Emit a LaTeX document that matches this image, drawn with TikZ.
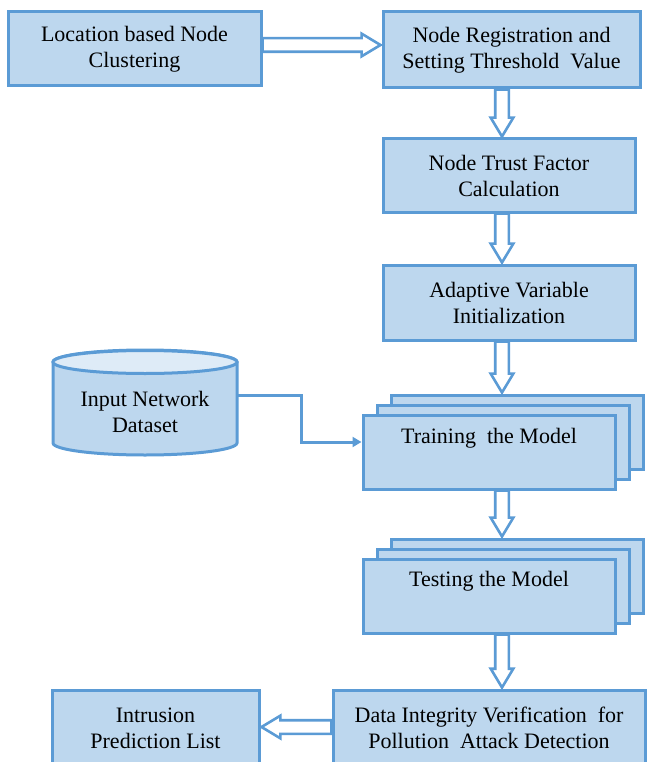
\documentclass[tikz,border=0pt]{standalone}
\usepackage{fontspec}
\setmainfont{Liberation Serif}
\newfontfamily\tnr{Liberation Serif}
\usetikzlibrary{shapes.arrows,calc,arrows.meta}
\definecolor{boxfill}{HTML}{BDD7EE}
\definecolor{boxline}{HTML}{5B9BD5}
\definecolor{endfill}{HTML}{DEEBF7}
\tikzset{
  box/.style={draw=boxline, fill=boxfill, line width=3pt, inner sep=0pt,
    align=center, font=\tnr\fontsize{22}{26}\selectfont},
  barrow/.style={single arrow, draw=boxline, fill=white, line width=2.6pt,
    inner xsep=0pt, inner ysep=5.5pt, minimum width=0pt, outer sep=0pt,
    single arrow head extend=4.5pt, single arrow tip angle=62,
    sloped, allow upside down},
  conn/.style={draw=boxline, line width=3pt, -{Triangle[length=9pt,width=10pt]}},
  lbl/.style={align=center, font=\tnr\fontsize{22}{26}\selectfont, inner sep=0pt}
}
\newcommand{\blockarrow}[2]{%
  \path let \p1=#1, \p2=#2, \n1={veclen(\x2-\x1,\y2-\y1)} in
    #1 -- #2 node[barrow, pos=0, anchor=tail, minimum height=\n1-1pt] {};}
\begin{document}
\begin{tikzpicture}[x=1pt,y=1pt]
\useasboundingbox (0,0) rectangle (651,-762);
\coordinate (ax) at (502,0);
% top boxes
\node[box, minimum width=253pt, minimum height=74pt] (b1) at (134.5,-49) {Location based Node\\Clustering};
\node[box, minimum width=257pt, minimum height=76pt] (b2) at (511.5,-50) {Node Registration and\\Setting Threshold\ \ Value};
\node[box, minimum width=252pt, minimum height=73pt] (b3) at (509,-175.5) {Node Trust Factor\\Calculation};
\node[box, minimum width=252pt, minimum height=75pt] (b4) at (509,-302.5) {Adaptive Variable\\Initialization};
% training stack
\node[box, minimum width=252pt, minimum height=74pt] (trc) at (517,-432) {};
\node[box, minimum width=252pt, minimum height=74pt] (trb) at (503,-442) {};
\node[box, minimum width=252pt, minimum height=74pt] (tr) at (489,-452) {};
\node[lbl] (trt) at (489,-438) {Training\ \ the Model};
% testing stack
\node[box, minimum width=252pt, minimum height=74pt] (tec) at (517,-576) {};
\node[box, minimum width=252pt, minimum height=74pt] (teb) at (503,-586) {};
\node[box, minimum width=252pt, minimum height=74pt] (te) at (489,-596) {};
\node[lbl] (tet) at (489,-581) {Testing the Model};
% bottom boxes
\node[box, minimum width=312pt, minimum height=76pt] (dv) at (489,-728) {Data Integrity Verification\ \ for\\Pollution\ \ Attack Detection};
\node[box, minimum width=207pt, minimum height=76pt] (ip) at (155.5,-728) {Intrusion\\Prediction List};
% cylinder
\filldraw[draw=boxline, fill=boxfill, line width=3pt]
  (53,-362) -- (53,-443) arc[start angle=180, end angle=360, x radius=92, y radius=12]
  -- (237,-362) arc[start angle=0, end angle=180, x radius=92, y radius=12] -- cycle;
\filldraw[draw=boxline, fill=endfill, line width=3pt] (145,-362) ellipse[x radius=92, y radius=11.5];
\node[lbl] (db) at (145,-412) {Input Network\\Dataset};
\coordinate (dbr) at (237,-395);
% connectors
\draw[conn] (dbr) -- (301,-395) -- (301,-442) -- (tr.west |- 0,-442);
\blockarrow{(b1.east |- 0,-45)}{(b2.west |- 0,-45)}
\blockarrow{(b2.south -| ax)}{(b3.north -| ax)}
\blockarrow{(b3.south -| ax)}{(b4.north -| ax)}
\blockarrow{(b4.south -| ax)}{(trc.north -| ax)}
\blockarrow{(tr.south -| ax)}{(tec.north -| ax)}
\blockarrow{(te.south -| ax)}{(dv.north -| ax)}
\blockarrow{(dv.west |- 0,-727)}{(ip.east |- 0,-727)}
\end{tikzpicture}
\end{document}
